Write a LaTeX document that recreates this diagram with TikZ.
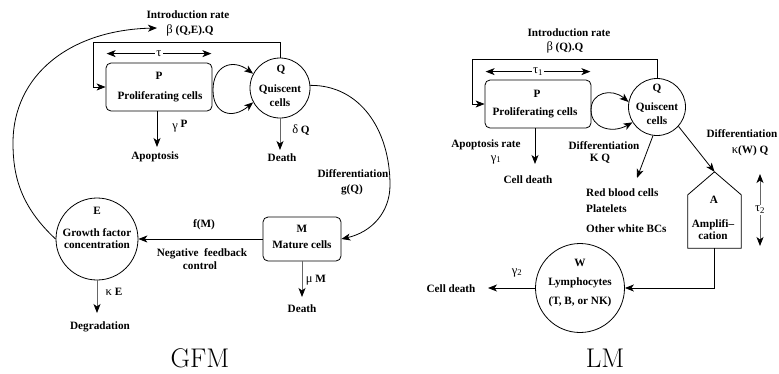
\documentclass[tikz,border=0pt]{standalone}
\usepackage{fontspec}
\newfontfamily\tf{Liberation Serif}
\usetikzlibrary{arrows.meta,calc}
\newcommand{\gk}[1]{{\mdseries\fontsize{12.5}{13}\selectfont #1}}
\tikzset{
  lw/.style={line width=0.8pt},
  arr/.style={lw,-{Stealth[length=9pt,width=7pt,inset=2.5pt,color=black]}},
  darr/.style={lw,{Stealth[length=9pt,width=7pt,inset=2.5pt,color=black]}-{Stealth[length=9pt,width=7pt,inset=2.5pt,color=black]}},
  gline/.style={draw=black!60},
  circ/.style={draw,lw,circle,inner sep=0pt},
  rbox/.style={draw,lw,rounded corners=5pt,inner sep=0pt},
  txt/.style={font=\tf\bfseries\fontsize{11.2}{13}\selectfont,inner sep=0pt,anchor=base},
  ltxt/.style={txt,anchor=base west},
  gap/.style={font=\tf\fontsize{12.5}{13}\selectfont,fill=white,inner sep=1.5pt},
  capt/.style={font=\fontsize{27}{30}\selectfont,inner sep=0pt,anchor=base}
}
\begin{document}
\begin{tikzpicture}[x=1pt,y=-1pt]
\useasboundingbox (0,0) rectangle (779,373);
% ================= GFM =================
\node[rbox,minimum width=106pt,minimum height=48pt] (P1) at (159,87) {};
\node[circ,minimum size=60pt] (Q1) at (280,88) {};
\node[circ,minimum size=82pt] (E1) at (97,239) {};
\node[rbox,minimum width=78pt,minimum height=44pt] (M1) at (302,239) {};
\coordinate (intro1) at (157,28);
\coordinate (L1) at (213,90);
\coordinate (apo1) at (157,147);
\coordinate (dq1) at (280,150);
\coordinate (deg1) at (97,313);
\coordinate (dm1) at (302,297);

\node[txt] (t1) at (188,18.5) {Introduction rate};
\node[txt] (t2) at (190,33.5) {\gk{β} (Q,E).Q};
\node[txt] (t3) at (159,79.3) {P};
\node[txt] (t4) at (160,99) {Proliferating cells};
\node[txt] (t5) at (281,72.7) {Q};
\node[txt] (t6) at (280,92.7) {Quiscent};
\node[txt] (t7) at (280,106) {cells};
\node[txt] (t8) at (180,129) {\gk{γ} \raisebox{2pt}{P}};
\node[txt] (t9) at (155,159.5) {Apoptosis};
\node[txt] (t10) at (301,133) {\gk{δ} Q};
\node[txt] (t11) at (282,161.5) {Death};
\node[txt] (t12) at (353,177) {Differentiation};
\node[txt] (t13) at (352,192) {g(Q)};
\node[txt] (t14) at (302,232) {M};
\node[txt] (t15) at (302,248) {Mature cells};
\node[txt] (t16) at (97,214) {E};
\node[txt] (t17) at (97,236) {Growth factor};
\node[txt] (t18) at (97,248.5) {concentration};
\node[txt] (t19) at (204,227) {f(M)};
\node[txt] (t20) at (202,256) {Negative\ \ feedback};
\node[txt] (t21) at (200,269) {control};
\node[txt] (t22) at (114,295) {\gk{κ} E};
\node[txt] (t23) at (100,329) {Degradation};
\node[txt] (t24) at (316,282) {\gk{μ} M};
\node[txt] (t25) at (302,312) {Death};
\node[capt] (gfm) at (200,367) {GFM};

\draw[arr] (Q1.north) |- (93,42) |- (P1.west);
\draw[darr] ($(P1.north west)+(1,-9)$) -- ($(P1.north east)+(-1,-9)$) node[midway,gap] (tau1) {τ};
\draw[arr] (L1) .. controls (213,66) and (232,58) .. (Q1.152);
\draw[arr] (L1) .. controls (213,114) and (232,120) .. (Q1.208);
\draw[arr] (P1.south -| apo1) -- (apo1);
\draw[arr,gline] (Q1.south) -- (dq1);
\draw[arr] (Q1.5) .. controls (360,85) and (390,130) .. (390,185) .. controls (390,212) and (372,232) .. (M1.east);
\draw[arr] (M1.west) -- (E1.east);
\draw[arr,gline] (E1.south) -- (deg1);
\draw[arr,gline] (M1.south) -- (dm1);
\draw[arr] (E1.west) .. controls (20,206) and (13,175) .. (13,143) .. controls (13,75) and (70,30) .. (intro1);

% ================= LM =================
\node[rbox,minimum width=106pt,minimum height=48pt] (P2) at (538,104) {};
\node[circ,minimum size=57pt] (Q2) at (657,107) {};
\node[inner sep=0pt,minimum width=53pt,minimum height=76pt] (A) at (714.5,210) {};
\node[circ,minimum size=89pt] (W) at (580,288) {};
\coordinate (L2) at (591,110);
\coordinate (apo2) at (535,164);
\coordinate (rbc) at (637,178);
\coordinate (cd2) at (488,288);
\coordinate (t2a) at (760,174);
\coordinate (t2b) at (760,246);

\draw[lw] (A.south west) -- ($(A.north west)+(0,23)$) -- (A.north) -- ($(A.north east)+(0,23)$) -- (A.south east) -- cycle;

\node[txt] (u1) at (569,36) {Introduction rate};
\node[txt] (u2) at (565,50) {\gk{β} (Q).Q};
\node[txt] (u3) at (537,97) {P};
\node[txt] (u4) at (535,115) {Proliferating cells};
\node[txt] (u5) at (657,91) {Q};
\node[txt] (u6) at (657,110) {Quiscent};
\node[txt] (u7) at (657,124) {cells};
\node[txt] (u8) at (486,147) {Apoptosis rate};
\node[txt] (u9) at (496,161) {\gk{γ\textsubscript{1}}};
\node[txt] (u10) at (528,183) {Cell death};
\node[txt] (u11) at (604,149) {Differentiation};
\node[txt] (u12) at (600,161) {K Q};
\node[ltxt] (u13) at (586,196) {Red blood cells};
\node[ltxt] (u14) at (586,212) {Platelets};
\node[ltxt] (u15) at (586,232) {Other white BCs};
\node[txt] (u16) at (742,137) {Differentiation};
\node[txt] (u17) at (750,153) {\gk{κ}(W) Q};
\node[txt] (u18) at (714,203) {A};
\node[txt] (u19) at (713,227) {Amplifi–};
\node[txt] (u20) at (713,239) {cation};
\node[txt] (u21) at (580,266) {W};
\node[txt] (u22) at (580,285) {Lymphocytes};
\node[txt] (u23) at (580,304) {(T, B, or NK)};
\node[txt] (u24) at (451,292) {Cell death};
\node[txt] (u25) at (517,274) {\gk{γ\textsubscript{2}}};
\node[capt] (lm) at (605,367) {LM};

\draw[arr] (Q2.north) |- (472,59) |- (P2.west);
\draw[darr] ($(P2.north west)+(1,-8)$) -- ($(P2.north east)+(-1,-8)$) node[midway,gap] (tau2) {τ\textsubscript{1}};
\draw[arr] (L2) .. controls (591,92) and (612,88) .. (Q2.170);
\draw[arr] (L2) .. controls (591,128) and (612,134) .. (Q2.212);
\draw[arr] (P2.south -| apo2) -- (apo2);
\draw[arr] (Q2.262) -- (rbc);
\draw[arr] (Q2.-42) -- (A.north);
\draw[darr,gline] (t2a) -- (t2b) node[midway,gap] (tau3) {τ\textsubscript{2}};
\draw[arr] (A.south) |- (W.east);
\draw[arr] (W.west) -- (cd2);
\end{tikzpicture}
\end{document}
